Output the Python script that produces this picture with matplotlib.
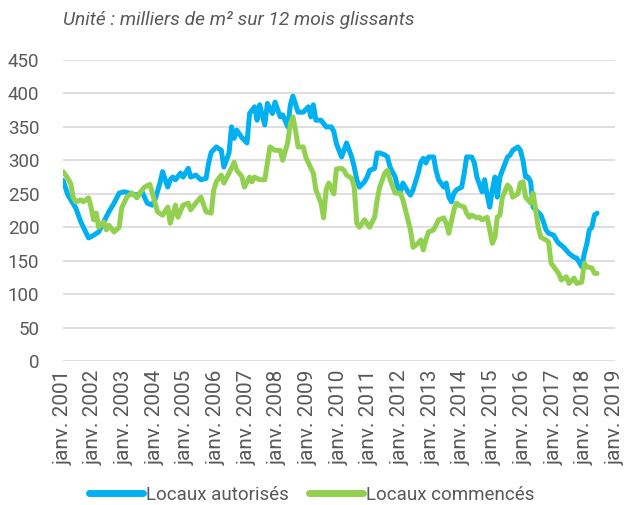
import matplotlib
matplotlib.use("Agg")
import matplotlib.pyplot as plt
import pandas as pd

plt.rcParams['font.family'] = ['Roboto', 'DejaVu Sans']

# Month offsets since January 2001 and values (milliers de m2, 12 mois glissants)
blue_idx = [0, 2, 5, 7, 10, 12, 14, 16, 18, 20, 22, 24, 26, 29, 31, 33, 35, 36, 38, 39,
            41, 42, 43, 44, 46, 47, 49, 50, 52, 54, 56, 57, 58, 60, 62, 63, 65, 66, 67, 68,
            70, 72, 73, 75, 76, 77, 79, 80, 82, 83, 85, 86, 88, 89, 90, 92, 94, 96, 97, 98,
            99, 101, 103, 105, 106, 107, 109, 110, 111, 113, 114, 115, 116, 118, 119, 120, 122, 123, 124, 126,
            127, 128, 130, 131, 132, 133, 135, 136, 137, 139, 140, 141, 142, 143, 145, 146, 147, 149, 150, 151,
            152, 153, 154, 156, 157, 158, 160, 161, 162, 164, 165, 166, 167, 168, 169, 170, 171, 172, 174, 175,
            176, 178, 179, 180, 181, 182, 183, 184, 185, 187, 188, 189, 190, 192, 193, 194, 196, 198, 200, 201,
            203, 204, 205, 206, 207, 208, 209]
blue_val = [270, 248, 229, 208, 184, 188, 193, 208, 223, 236, 251, 253, 251, 248, 253, 236, 233, 241, 266, 283,
            260, 271, 275, 271, 281, 275, 288, 275, 278, 271, 273, 296, 312, 320, 315, 290, 311, 350, 333, 345,
            334, 326, 370, 380, 360, 383, 353, 385, 370, 387, 365, 368, 350, 383, 396, 372, 372, 380, 365, 383,
            360, 360, 350, 350, 343, 325, 305, 315, 326, 305, 290, 271, 260, 268, 275, 285, 288, 311, 311, 308,
            305, 290, 275, 260, 253, 266, 253, 248, 256, 281, 297, 303, 296, 305, 305, 285, 271, 260, 266, 245,
            238, 251, 256, 260, 281, 305, 305, 296, 275, 253, 271, 248, 230, 256, 275, 245, 275, 285, 305, 308,
            315, 320, 315, 300, 275, 275, 268, 230, 226, 218, 208, 196, 191, 188, 181, 176, 170, 161, 155, 154,
            141, 161, 176, 196, 200, 218, 221]

green_idx = [0, 1, 3, 4, 5, 7, 8, 10, 11, 12, 13, 14, 16, 17, 18, 20, 22, 23, 25, 27,
             29, 31, 32, 34, 35, 37, 39, 41, 42, 44, 45, 47, 49, 50, 52, 54, 56, 58, 59, 60,
             62, 63, 65, 67, 68, 70, 71, 73, 74, 75, 77, 79, 80, 81, 83, 85, 86, 88, 89, 90,
             91, 92, 94, 95, 97, 98, 99, 101, 102, 103, 104, 106, 107, 109, 110, 111, 113, 114, 115, 116,
             118, 120, 122, 123, 124, 126, 127, 128, 130, 131, 132, 133, 135, 136, 137, 139, 140, 141, 142, 143,
             145, 146, 147, 149, 150, 151, 153, 154, 155, 157, 158, 159, 160, 162, 163, 164, 166, 167, 168, 169,
             170, 171, 172, 174, 175, 176, 178, 179, 180, 181, 183, 184, 185, 186, 187, 189, 190, 191, 192, 194,
             195, 197, 198, 200, 201, 203, 204, 205, 207, 208, 209]
green_val = [283, 278, 266, 245, 238, 241, 238, 244, 230, 211, 221, 200, 208, 196, 203, 193, 200, 229, 245, 251,
             244, 256, 260, 264, 251, 223, 218, 230, 206, 233, 215, 233, 236, 226, 236, 245, 223, 221, 256, 268,
             278, 266, 281, 297, 285, 276, 260, 275, 268, 275, 271, 271, 296, 320, 315, 315, 300, 327, 355, 365,
             345, 320, 320, 305, 288, 281, 256, 236, 214, 256, 266, 250, 287, 288, 285, 278, 273, 260, 206, 200,
             211, 200, 215, 241, 260, 281, 285, 271, 251, 251, 251, 241, 211, 196, 170, 176, 181, 166, 181, 193,
             196, 203, 211, 214, 206, 191, 226, 236, 233, 230, 221, 215, 218, 214, 215, 211, 215, 196, 176, 185,
             215, 218, 245, 263, 259, 245, 250, 266, 268, 245, 236, 251, 225, 200, 185, 181, 178, 146, 141, 131,
             121, 126, 116, 124, 116, 118, 146, 141, 139, 131, 131]

series_names = ['Locaux autorisés', 'Locaux commencés']
title_text = 'Unité : milliers de m² sur 12 mois glissants'
y_ticks = [0, 50, 100, 150, 200, 250, 300, 350, 400, 450]
tick_years = list(range(2001, 2020))

months = pd.date_range('2001-01-01', periods=217, freq='MS')
blue_dates = months[blue_idx]
green_dates = months[green_idx]

BLUE = '#00B0F0'
GREEN = '#92D050'
TXT = '#595959'

fig = plt.figure(figsize=(6.27, 5.05), dpi=100)
ax = fig.add_axes([63/627, 1-361/505, (615-63)/627, (361-60)/505])

ax.plot(blue_dates, blue_val, color=BLUE, lw=3.6, solid_joinstyle='round',
        solid_capstyle='round', label=series_names[0], zorder=3)
ax.plot(green_dates, green_val, color=GREEN, lw=3.6, solid_joinstyle='round',
        solid_capstyle='round', label=series_names[1], zorder=3)

ax.set_ylim(0, 450)
ax.set_yticks(y_ticks)
ax.set_xlim(pd.Timestamp('2001-01-01'), pd.Timestamp('2019-01-01'))
xt = [pd.Timestamp(f'{y}-01-01') for y in tick_years]
ax.set_xticks(xt)
ax.set_xticklabels([f'janv. {y}' for y in tick_years], rotation=90)

ax.grid(axis='y', color='#d9d9d9', lw=1.2, zorder=0)
ax.grid(axis='x', visible=False)
for s in ax.spines.values():
    s.set_visible(False)
ax.tick_params(axis='both', length=0, colors=TXT)
ax.tick_params(axis='y', pad=17, labelsize=13.5)
ax.tick_params(axis='x', pad=6, labelsize=15)

fig.text(63/627, 1-20/505, title_text, ha='left', va='center', fontsize=13.8,
         style='italic', color=TXT)

leg = fig.legend(loc='center', bbox_to_anchor=(0.497, 1-495/505), ncol=2, frameon=False,
                 fontsize=13.5, handlelength=2.9, handletextpad=0.15, columnspacing=1.1,
                 labelcolor=TXT)
for line in leg.get_lines():
    line.set_linewidth(5)

fig.savefig('out.png', dpi=100)
